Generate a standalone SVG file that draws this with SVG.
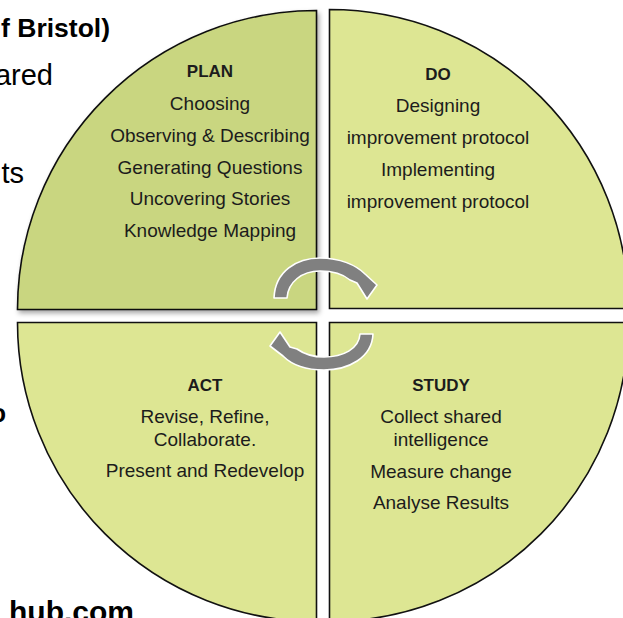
<svg xmlns="http://www.w3.org/2000/svg" width="623" height="618" viewBox="0 0 623 618">
<style>
.q{fill:#dde693;stroke:#111;stroke-width:1.6}
.plan{fill:#c9d680}
.t{font-family:"Liberation Sans",Arial,sans-serif;font-size:19px;fill:#1c1c1c;text-anchor:middle}
.h{font-weight:bold;font-size:17px}
.side{font-family:"Liberation Sans",Arial,sans-serif;fill:#000;text-anchor:end}
.arr{fill:#808080;stroke:#fff;stroke-width:1.6;stroke-linejoin:round}
</style>
<defs>
<filter id="sh" x="-10%" y="-10%" width="130%" height="130%">
<feDropShadow dx="2" dy="3" stdDeviation="2.5" flood-color="#000" flood-opacity="0.35"/>
</filter>
</defs>
<rect width="623" height="618" fill="#fff"/>
<g id="background-text">
<text class="side" x="110" y="37" font-size="26.5" font-weight="bold">f Bristol)</text>
<text class="side" x="53" y="85" font-size="29">ared</text>
<text class="side" x="24" y="183" font-size="29">ts</text>
<text class="side" x="6" y="422" font-size="25" font-weight="bold">o</text>
<text class="side" x="134" y="622" font-size="30" font-weight="bold">hub.com</text>
</g>
<g id="plan">
<path class="q plan" filter="url(#sh)" d="M316.5,10.5 L316.5,309.5 L17.5,309.5 A299,299 0 0 1 316.5,10.5 Z"/>
<text class="t h" x="210" y="77">PLAN</text>
<text class="t" x="210" y="110">Choosing</text>
<text class="t" x="210" y="142">Observing &amp; Describing</text>
<text class="t" x="210" y="174">Generating Questions</text>
<text class="t" x="210" y="205">Uncovering Stories</text>
<text class="t" x="210" y="237">Knowledge Mapping</text>
</g>
<g id="do">
<path class="q" d="M329.5,9.5 A299,299 0 0 1 628.5,308.5 L329.5,308.5 Z"/>
<text class="t h" x="438" y="80">DO</text>
<text class="t" x="438" y="112">Designing</text>
<text class="t" x="438" y="144">improvement protocol</text>
<text class="t" x="438" y="176">Implementing</text>
<text class="t" x="438" y="208">improvement protocol</text>
</g>
<g id="act">
<path class="q" d="M17.5,322.5 L316.5,322.5 L316.5,621.5 A299,299 0 0 1 17.5,322.5 Z"/>
<text class="t h" x="205" y="391">ACT</text>
<text class="t" x="205" y="423">Revise, Refine,</text>
<text class="t" x="205" y="446">Collaborate.</text>
<text class="t" x="205" y="477">Present and Redevelop</text>
</g>
<g id="study">
<path class="q" d="M329.5,322.5 L628.5,322.5 A299,299 0 0 1 329.5,621.5 Z"/>
<text class="t h" x="441" y="391">STUDY</text>
<text class="t" x="441" y="423">Collect shared</text>
<text class="t" x="441" y="446">intelligence</text>
<text class="t" x="441" y="478">Measure change</text>
<text class="t" x="441" y="509">Analyse Results</text>
</g>
<g id="connectors">
<path class="arr" d="M274,298 C275,271 297,258 320,258 C340,258 356,265 365,274 L377,285 L367,299 L357,283 L350,280 C343,274 333,271 320,271 C302,271 288,282 287,298 Z"/>
<path class="arr" d="M373,334 C372,358 348,370 324,370 C305,370 291,364 283,356 L270,346 L280,332 L290,347 L297,349 C304,354 313,357 324,357 C343,357 359,349 360,334 Z"/>
</g>
</svg>
